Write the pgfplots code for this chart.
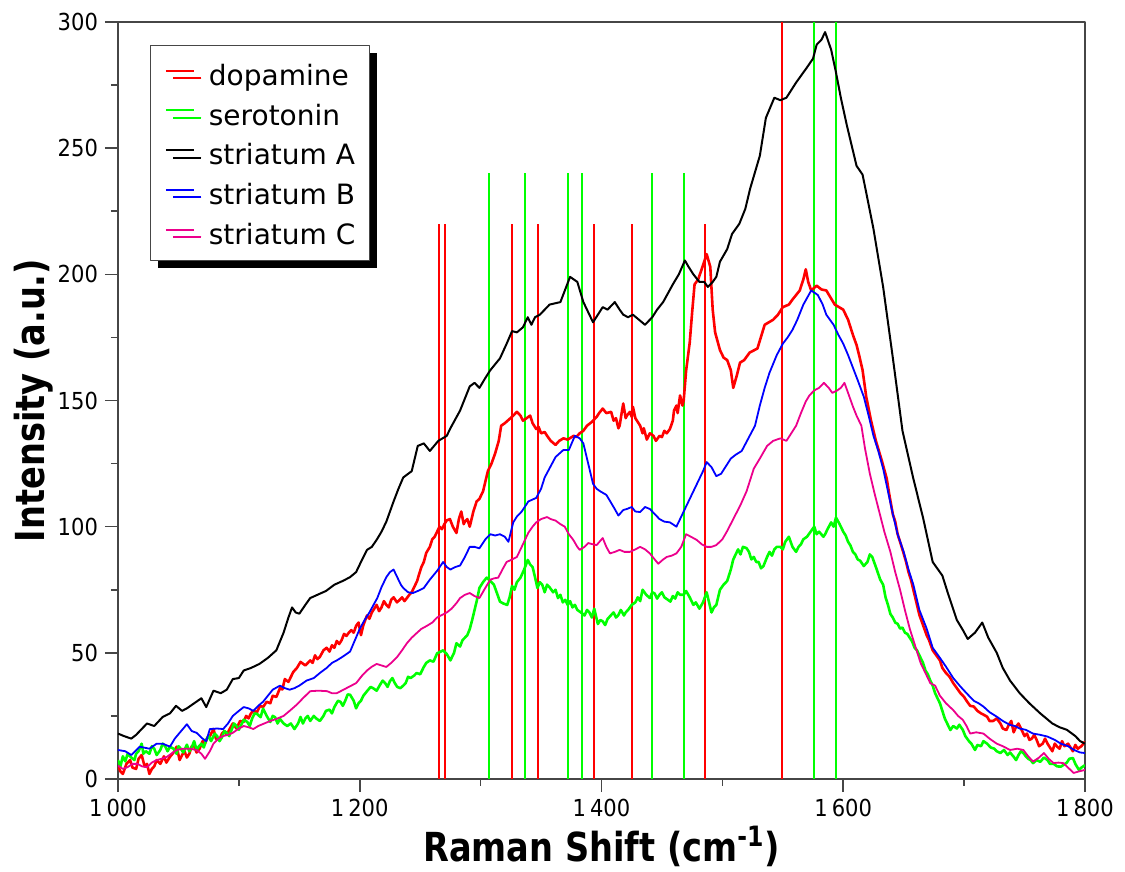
\documentclass[border=0pt]{standalone}
\usepackage{fontspec}
\setmainfont{DejaVu Sans}
\newfontfamily\tickfont[FakeStretch=0.9]{DejaVu Sans}
\newfontfamily\labfont[FakeStretch=0.84]{DejaVu Sans}
\usepackage{pgfplots}
\pgfplotsset{compat=1.18}
\usetikzlibrary{shadows}
\definecolor{axgray}{RGB}{70,70,70}
\begin{document}
\begin{tikzpicture}
\useasboundingbox (-59pt,-46.5pt) rectangle (503.5pt,389.5pt);
\begin{axis}[
  scale only axis, width=483.5pt, height=378.5pt,
  at={(0,0)}, anchor=south west,
  xmin=1000, xmax=1800, ymin=0, ymax=300,
  xtick={1000,1200,...,1800}, ytick={0,50,...,300},
  minor x tick num=1, minor y tick num=1,
  xtick pos=lower, ytick pos=left,
  tick align=outside,
  major tick length=6.5pt, minor tick length=3.5pt,
  tick style={axgray, line width=0.8pt},
  axis line style={axgray, line width=1pt},
  /pgf/number format/assume math mode=true,
  /pgf/number format/1000 sep={\,},
  tick label style={font=\tickfont\fontsize{11.7}{13}\selectfont},
  every axis x label/.style={at={(axis description cs:0.5,-0.1096)}, anchor=base},
  every axis y label/.style={at={(axis description cs:-0.0755,0.5)}, rotate=90, anchor=base},
  label style={font=\labfont\bfseries\fontsize{20}{24}\selectfont},
  xlabel={Raman Shift (cm\textsuperscript{-1})},
  ylabel={Intensity (a.u.)},
  legend cell align=left,
  legend image code/.code={\path (0pt,0pt); \draw[#1, line width=1pt] (0pt,1.5pt) -- (14pt,1.5pt);},
  legend style={at={(0.0331,0.9696)}, anchor=north west,
    draw=axgray, line width=0.6pt, fill=white,
    font=\fontsize{14}{16}\selectfont,
    inner xsep=7pt, inner ysep=5.85pt,
    column sep=7pt, row sep=3.4pt,
    nodes={inner sep=0pt, text height=14pt, text depth=2.45pt},
    drop shadow={shadow xshift=3.7pt, shadow yshift=-3.7pt, fill=black, opacity=1}},
  line join=round,
]
% reference lines
\addplot[ycomb, red, line width=1pt, no markers, forget plot] coordinates {
(1265.5,220)(1270.5,220)(1326,220)(1347.4,220)(1394,220)(1425.4,220)(1485.8,220)(1549.5,300)};
\addplot[ycomb, green, line width=1pt, no markers, forget plot] coordinates {
(1307,240)(1336.3,240)(1372.3,240)(1384,240)(1441.5,240)(1468.3,240)(1576,300)(1594,300)};

% dopamine
\addplot[red, line width=1.3pt, no markers] coordinates {
(1000,5.3)(1002,3)(1004,2)(1007,6)(1010,7.5)(1012,4.5)(1015,4)(1017,8)(1019.6,9.5)(1022,5)(1024,6)(1026,2)(1028,4)(1030,5)(1032,7.5)(1035,6)(1038,9)(1040,6.5)(1043,8.8)(1046,10.5)(1048.5,12.8)(1051,7.5)(1053,9.5)(1055,11)(1057,8.5)(1059,10)(1061,13)(1063,13)(1065,10.5)(1067.5,12)(1070,15)(1072,14)(1074,16.5)(1076,17)(1079,19.8)(1081,16)(1084,15.6)(1086,18)(1088,19)(1090,17.5)(1092.6,20)(1095,22)(1098,20)(1101,23)(1104,22.6)(1106,25)(1108,24)(1110,26)(1112,27)(1115,26.5)(1117.5,29)(1120,28.5)(1123,30.6)(1126,30)(1128,33)(1131,32.5)(1134,36)(1136,35.5)(1138,39.6)(1141,38.5)(1145,42.4)(1148,44)(1151,46.4)(1155,45)(1159,47)(1161,46)(1163,49)(1165,47.5)(1167,48.4)(1170,51)(1172.6,52)(1175,50.5)(1177,53)(1179,52)(1181,54.7)(1183,53.5)(1185,55)(1187,57.5)(1189,56.7)(1191,58)(1193,59)(1195,58)(1197,60.7)(1199,62)(1201,57)(1203,61)(1206,64.8)(1208,63.5)(1210,66)(1212,67.5)(1214,69)(1216,66.5)(1218,68)(1220,70.5)(1222,69)(1224,68)(1226,71)(1228,72)(1230.8,70)(1233,71)(1235,72)(1237,70.5)(1239,71.7)(1241,73)(1243,74)(1245,76)(1247.5,78.5)(1249,81)(1251,84)(1253,86)(1255,89.6)(1258,92)(1260,95)(1262,96)(1264,98)(1266,100)(1268,99)(1270,101)(1272,102.5)(1274.6,103)(1277,100)(1280,97.5)(1282,103)(1284,106)(1286,101)(1287,102)(1289,103)(1291,100)(1294,106)(1296.7,110)(1299,111)(1302,114)(1304,118)(1306,122)(1309,125)(1312,129)(1315,134)(1317,140)(1320,141)(1324,142.7)(1327,144)(1330,145.5)(1333,144)(1335,142)(1338,143)(1341,144)(1343,141)(1346,138.7)(1348,139.5)(1350,137)(1353,137.5)(1355,136)(1358,134)(1362,132.4)(1365,134)(1368.5,135)(1372,134.5)(1377,136)(1379,135.5)(1382,137)(1385,138)(1388,140)(1392,141.5)(1396,143.5)(1398,145)(1401,146.8)(1404,145)(1408,145.5)(1410,142)(1412,143)(1414,139)(1415,140)(1417,146)(1418,148.8)(1420,143)(1421,144)(1423.5,145.5)(1425,143.5)(1426,147.5)(1428,143)(1430,141.5)(1432,140)(1434,137)(1435,139)(1437.5,134.5)(1440,137)(1443,136)(1445,134)(1448,136)(1450,135.5)(1452,138)(1454,137)(1456.6,138.7)(1459,142)(1460,146)(1462,148)(1463,145)(1465,152)(1467,148)(1468,150)(1470,161.8)(1473,173)(1475,185)(1477,196)(1480,198)(1482.5,201.5)(1487,208)(1490,203)(1492,186)(1494,177)(1498,170)(1501,167)(1504,166)(1507,162)(1509,155)(1512,160)(1514.6,165)(1518,166)(1522.6,169)(1529,170.6)(1535,180)(1542,182)(1546,184)(1550,187)(1555,188)(1558,190)(1564,193.6)(1567,198)(1569,202)(1571,197)(1573.5,193.6)(1578,195.5)(1582,194)(1586,193.6)(1593,188)(1600,186)(1604,182)(1608,176)(1611,172)(1613.6,167)(1616,162)(1619,151.5)(1623,142)(1627,134)(1632,126)(1636,119)(1638,113)(1641,105)(1643,102)(1645,97)(1647,94)(1649.6,90)(1652,86)(1654,82)(1656,79)(1658,75)(1660,71)(1663,65)(1666,61)(1669,57)(1671,55)(1674,51)(1677,49)(1680,47)(1682,44)(1685,42)(1688,40.5)(1691,38)(1694,36)(1697,34)(1700,32.5)(1702,31)(1705,29)(1708,28.7)(1711,27)(1714,26)(1716,25.5)(1719,24.7)(1721,23)(1724,23)(1727,24)(1730,22)(1732,20)(1735,19.4)(1737,21.5)(1739,23)(1741,18.5)(1743,20.7)(1745,22)(1748,19)(1750,17)(1752,18)(1754,15.5)(1756,16)(1758,17.5)(1760,15.5)(1762,13)(1765,14)(1767,16)(1769,14)(1771,12.5)(1773,11)(1775,14)(1777,12.8)(1779,12)(1781,15)(1783,13)(1786,14)(1788,12.5)(1790,11)(1792,13.5)(1794,12)(1797,13)(1800,14.8)};
\addlegendentry{dopamine}

% serotonin
\addplot[green, line width=1.3pt, no markers] coordinates {
(1000,7.5)(1002,5)(1004,9)(1006,7)(1008,10)(1011,8.5)(1013.6,7.5)(1015,10)(1017,11)(1019.6,14)(1021,10)(1023,11)(1026,10)(1028,13)(1030,12)(1032,9.5)(1035,11.5)(1037,14)(1039,13)(1041,11)(1043,12.8)(1046,12)(1048.5,10)(1050,13)(1052,12)(1054,10.5)(1057,13.6)(1059,11)(1061,12.5)(1063,15)(1065,11.5)(1067,13)(1069,14)(1071,12.5)(1073,15.6)(1075,17)(1077,15)(1080,18)(1082,17)(1084,15)(1086,16.5)(1088,19)(1090,18.3)(1092,17)(1094,19.5)(1096,22)(1098,21)(1100,19.5)(1102,21.5)(1104,23.5)(1107,22.6)(1109,21)(1111,24)(1113,26)(1115,25.8)(1118,24.5)(1120,27.9)(1123,25)(1126,22.6)(1128,25)(1130,24.5)(1132,22)(1134,23.8)(1137,22)(1140,21)(1143,22)(1146,19.8)(1149,22)(1151,24.6)(1153,22)(1155,24)(1157,25)(1159,23)(1162,25)(1164,24)(1167,23)(1170,25)(1172,27)(1175,27.5)(1177,26)(1179,28.5)(1182,31)(1184,30.6)(1186,29)(1188,31)(1190,33.5)(1192,33.4)(1195,31)(1197,28)(1199,30)(1201,31)(1203,33)(1206,34.8)(1209,36.5)(1211,36)(1214,35)(1217,37.5)(1219,39)(1221,38)(1223,36.5)(1225,38.8)(1227,40)(1229,38)(1231,36.5)(1233.6,36)(1236,37)(1238,38)(1240,40.5)(1242,40)(1245,41)(1247,42)(1250,41.5)(1253,44.4)(1255,46)(1258,47)(1261,46.5)(1264,49.8)(1267,50.5)(1269,51)(1272,49.5)(1275,47)(1278,50)(1280,53.8)(1283,52.5)(1285,55)(1287,56)(1289,57)(1291,59.4)(1293,63)(1295,67)(1297,71)(1299,75.7)(1302,78)(1305,79.8)(1308,78.5)(1311,77)(1314,73)(1316,70.3)(1319,69.5)(1322,69)(1324,72)(1326,76.5)(1328,75)(1330,78)(1333,79.8)(1336,83)(1339,86.8)(1341,85)(1343,84)(1345,80)(1347,75.7)(1349,78)(1351,77)(1353,74)(1355,77)(1357,76)(1360,74)(1362,75)(1364,71.7)(1366,73)(1368,70)(1370,71)(1372,69)(1374,70.5)(1376,68)(1378,69)(1380,67)(1383,66)(1386,64.8)(1388,67)(1390,66)(1392,64)(1394,67.5)(1397,61.4)(1399,63)(1401,62.5)(1403,61)(1405,63.4)(1408,65)(1410,66)(1412,64)(1414,65)(1416,67)(1418.6,64.8)(1420,66)(1422,67)(1425,69)(1428,70)(1430,72)(1432,70.5)(1434,75)(1437,73)(1440,71.7)(1442,74)(1444,73.5)(1446,71.5)(1448,73)(1450,74)(1452,72)(1455,71)(1457,70.3)(1459,72.5)(1461,71.5)(1463,74)(1465,73)(1468,73)(1470,74.5)(1473,72)(1476,69)(1478,70)(1481,67.5)(1484,70)(1487,74)(1489,70)(1491,66)(1493,68)(1495,69)(1498,75)(1501,77)(1504,78.5)(1507,83)(1509,87)(1511,89)(1513,91)(1515,89)(1517,92)(1520,91.5)(1522,90)(1524,87)(1526,88)(1528,86)(1530,86)(1532,83.5)(1534,84.4)(1537,88)(1539,90)(1541,88.5)(1543,91)(1545,92)(1548,92)(1550,91)(1552,94)(1555,96)(1558,92)(1561,90)(1563,92)(1565,93)(1567,95)(1570,96)(1573,98)(1576,100)(1578,97)(1580,98)(1583.6,96)(1585,97)(1587,99)(1590,101.7)(1592,100)(1594,103.6)(1597,101)(1600,98)(1602,96.5)(1604,94)(1606,92.5)(1608,90)(1610,89)(1612,87)(1614,86.5)(1617,84.4)(1620,86)(1622,89)(1624,88)(1627,84)(1630.6,79)(1633,77)(1635,72)(1637,69)(1639,65.4)(1641,64)(1643,62)(1645,61.5)(1647,59.6)(1649,60)(1651,58)(1653,57.5)(1655,56)(1657,54.5)(1659,52)(1661,51)(1664,48)(1666,46)(1668,43)(1670,41.5)(1672,39)(1674,37)(1676,34)(1678,32)(1680,30)(1682,27)(1684,24)(1686,22)(1688.6,19.4)(1691,21)(1694,20)(1696,21.5)(1699,19.4)(1701,17)(1704,15)(1706,14)(1709,11.5)(1711,13.5)(1714,13)(1716,15)(1719,14)(1722,12.5)(1725,12)(1727,11)(1730,10.3)(1733,11.5)(1736,9.5)(1738,10.5)(1741,8.8)(1743,7.5)(1745,9.5)(1747,11)(1749,10.3)(1751,9)(1753,8)(1755,7.5)(1757,6.3)(1760,7.5)(1763,6.8)(1766,8.5)(1769,7.5)(1771,6)(1774,6)(1777,5)(1780,4.9)(1782,5.5)(1785,6.5)(1787,8)(1790,8.3)(1792,6)(1795,3.6)(1797,4.5)(1800,5.5)};
\addlegendentry{serotonin}

% striatum A
\addplot[black, line width=1pt, no markers] coordinates {
(1000,18)(1005,17)(1011,16)(1015,17.5)(1018,19)(1024,22)(1030,21)(1037,24.6)(1043,26)(1048,29)(1053,27)(1057,28)(1063,30)(1069,32)(1073,28.5)(1079,35)(1085,34)(1090,35.4)(1095,39.6)(1100,40)(1104,43)(1110,44)(1117,45.6)(1124,48)(1131,51)(1137,58)(1141,64)(1144,68)(1147,66)(1150,65.5)(1155,69)(1159,71.7)(1165,73)(1172,74.5)(1179,77)(1186,78.5)(1192,80)(1197,82)(1202,87)(1206,90.8)(1210,92)(1214,94.8)(1218,98)(1222,102)(1228,110)(1232,115)(1236,119.5)(1243,122)(1248,132)(1253,133)(1258,130)(1265,134)(1272,136)(1275,139)(1283,146)(1291,155.6)(1295,157)(1299,155)(1304,159)(1308,162)(1316,166.7)(1322,173)(1326,177.5)(1330,177)(1335,179)(1339,183)(1342,180)(1345,183)(1349,184)(1357,188)(1366,189)(1370,194)(1374,199)(1380,197)(1385,189)(1389,185)(1393,181)(1397,184)(1401,187)(1405,186)(1411,189)(1415,186)(1418,184)(1422,183)(1426,184)(1431,182)(1436,180)(1442,183)(1446,186)(1451,189)(1459,196)(1464,200)(1469,205.5)(1472,203)(1476,200)(1481,197)(1485,197)(1488,195)(1492,197)(1495,199)(1498,205)(1504,210)(1508,216)(1514,220)(1519,226)(1523,234)(1531,247)(1536,262)(1543,270)(1548,269)(1553,270)(1561,276)(1570,282)(1575,285.5)(1578,291)(1582,293)(1585,296)(1590,289)(1594,280)(1598,270)(1603,259)(1611,243)(1616,239.5)(1620,230)(1625,218)(1633,195)(1641,167)(1649,138)(1658,119)(1666,103.6)(1674,86)(1682,80.6)(1687,73)(1694,63)(1699,59)(1703,55.5)(1709,58)(1715,62)(1720,56)(1727,50)(1732,44)(1738,39)(1746,34)(1754,30)(1763,26)(1773,22)(1779,20.5)(1785,19.5)(1792,17)(1796,15)(1800,14)};
\addlegendentry{striatum A}

% striatum B
\addplot[blue, line width=0.9pt, no markers] coordinates {
(1000,11.5)(1006,11)(1011,9.5)(1018,12.8)(1026,12)(1032,14)(1037,14)(1043,12.8)(1047,16)(1051,18.3)(1057,21.7)(1061,19)(1065,18.3)(1070,16)(1073,15)(1076,19.8)(1082,20)(1087,19.8)(1091,22)(1095,25)(1100,27)(1104,28.5)(1108,28)(1112,27)(1116,29)(1120,30.6)(1124,33)(1128,35.4)(1134,37)(1138,36)(1142,35.4)(1146,36)(1150,37)(1156,39)(1162,40)(1167,42)(1172.6,44)(1177,46)(1181,47)(1186,48.5)(1192,50.5)(1196,55)(1200,59.5)(1204,63)(1208,66)(1214.5,71.7)(1218,76)(1222,80)(1225,82)(1228,83)(1231,80)(1234,77)(1236,75.7)(1240,74)(1244,73.7)(1248,74.5)(1253,75.7)(1258,79)(1264,82.5)(1269,86)(1272,84)(1275,83)(1279,84)(1283,84.6)(1287,88)(1291,92)(1295,92)(1299,91.4)(1304,95)(1308,97)(1312,96.5)(1316,97)(1320,96)(1323,94)(1327,101.7)(1330,104)(1334,106)(1339.5,110)(1346,111.4)(1350,115)(1353,119.5)(1358,124)(1362,127.6)(1368.5,130.4)(1373,130.4)(1378,136)(1382,135)(1385,133)(1389,125)(1393,117)(1396,115)(1399,114)(1404,112.6)(1410,107.8)(1414,104.4)(1418,106.6)(1421,107)(1425,107.8)(1428,106)(1432,105.8)(1436,107.8)(1440,107)(1444,105)(1448,103)(1452,102)(1456.6,101.7)(1462,100)(1465,103)(1469,107)(1472,110)(1476,114)(1480,118)(1484,122)(1487,125.6)(1491,123.6)(1495,120)(1499,121)(1503,124)(1507,127)(1511,128.5)(1516,130)(1522.6,136)(1527,140)(1531,148)(1535,155)(1539,161)(1545,168)(1550,172.5)(1554,175)(1558,178)(1562,182)(1567,188)(1573.5,193.6)(1579,191.8)(1583,188)(1586,184)(1592,180)(1596,176)(1600,172.5)(1604,168)(1608,163)(1612,158)(1617,151.5)(1621,144)(1625,136)(1629,130)(1633,123)(1637,114)(1641,105)(1645,97)(1650,90)(1654,83)(1658,77)(1663,67)(1669,59.6)(1674,52)(1680,48)(1685,44.5)(1691,40)(1697,36.6)(1702,34)(1708,31)(1712,30)(1716,28.7)(1721,26.5)(1727,24.7)(1732,23)(1738,21.4)(1742,21)(1746,20)(1751,19.5)(1757,18)(1763,17.5)(1769,16.8)(1775,15.5)(1780,14)(1786,13)(1791,11.5)(1796,10.5)(1800,10.3)};
\addlegendentry{striatum B}

% striatum C
\addplot[magenta, line width=0.9pt, no markers] coordinates {
(1000,5.3)(1004,4)(1008,4.7)(1012,6)(1016,6)(1020,5)(1024,4.7)(1028,6.5)(1032,7.5)(1036,8)(1040.5,8.8)(1044,10)(1048.5,11.5)(1054,12)(1059.6,12)(1065,11.5)(1069,10)(1072,8)(1076,11)(1079,14)(1083,16)(1087,17)(1091,17.5)(1095,18.3)(1100,20)(1104,21)(1108,20.5)(1112,19.8)(1116,21)(1120,21.8)(1126,23)(1131,23.8)(1137,25)(1142,27)(1148,29.5)(1153,32)(1159,34.8)(1166,35)(1173,34.8)(1177,34)(1181,34)(1185,35)(1189,36)(1193,37)(1197,38)(1202,41)(1206,43)(1210,44.5)(1214,45.6)(1218,45)(1222,44.4)(1226,46)(1231,48.4)(1235,51)(1239,53.8)(1243,56)(1247.5,58)(1251,59.5)(1255.6,60.7)(1260,62)(1264,64)(1268,65)(1272,66)(1276,67.5)(1280,69.7)(1283,71.7)(1287,73)(1291,73.7)(1295,72.5)(1299,71.7)(1303,75)(1308,79)(1311,79.5)(1314.6,79.8)(1318,83)(1321.5,86)(1326,87)(1330,88)(1334,92)(1339.5,97.6)(1343,100)(1346,101.7)(1350,103)(1355,103.8)(1358,103)(1362,102.4)(1366,101)(1369.6,100)(1373,97)(1376.6,94.8)(1380,92)(1382,90.8)(1386,92)(1389,93.5)(1393,93)(1396,92.7)(1401,95.5)(1404,92)(1407,89.4)(1411,90)(1415,90.8)(1419,90)(1423.5,90)(1428,91)(1432,92)(1436,91)(1440,89.4)(1444,87)(1447,85.3)(1451,87)(1454,88)(1458,88.5)(1462,89.4)(1466,92)(1470,97)(1474,96)(1478.6,94.8)(1483,93)(1487,92)(1491,92)(1495,92.7)(1500,95)(1504,98.3)(1509,103)(1515,108.6)(1520,114)(1526,123)(1531,127)(1537,132)(1542,134)(1548,135)(1553,134)(1557,137)(1561,140)(1565,145)(1569,149.6)(1572,152)(1576,154)(1580,155)(1584,157)(1588,155)(1591,153)(1595,154)(1598,155)(1601,157)(1604,153)(1608,147.6)(1611,144)(1615,140)(1618,131)(1622,121)(1626,113)(1630,105.5)(1634,98)(1639,90)(1643,82)(1647,75)(1651,67)(1655,59.6)(1660,52)(1664,46)(1668,42)(1672,38)(1676,37)(1680,33)(1685,30)(1691,27.3)(1695,25)(1699,23.4)(1702,21)(1705,18)(1710,18.5)(1716,18)(1721,16)(1727,14)(1732,13)(1738,11.5)(1744,12)(1749,11.5)(1753,9)(1757,6.9)(1762,8.5)(1766,10.3)(1770,8)(1774,6.3)(1778,6.5)(1782,6.3)(1786,4.5)(1790.6,2.4)(1795,3)(1800,3.6)};
\addlegendentry{striatum C}
\end{axis}
\end{tikzpicture}
\end{document}
